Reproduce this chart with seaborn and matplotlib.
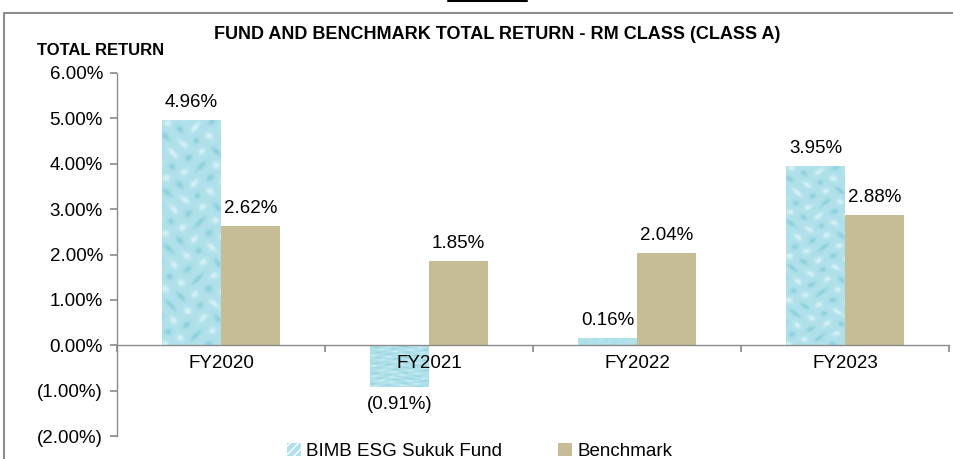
import numpy as np
import pandas as pd
import seaborn as sns
import matplotlib.pyplot as plt
from matplotlib.colors import LinearSegmentedColormap
from matplotlib.patches import Patch
from matplotlib.lines import Line2D
from matplotlib.ticker import FuncFormatter, FixedLocator

years = ["FY2020", "FY2021", "FY2022", "FY2023"]
fund = [4.96, -0.91, 0.16, 3.95]
benchmark = [2.62, 1.85, 2.04, 2.88]
series = ["BIMB ESG Sukuk Fund", "Benchmark"]

df = pd.DataFrame({
    "year": years * 2,
    "value": fund + benchmark,
    "series": [series[0]] * 4 + [series[1]] * 4,
})

sns.set_theme(style="white")
plt.rcParams["font.family"] = ["Liberation Sans", "DejaVu Sans"]
plt.rcParams["text.color"] = "black"
plt.rcParams["xtick.color"] = "black"
plt.rcParams["ytick.color"] = "black"

fund_col = "#B0E1EA"
bench_col = "#C6BD97"
fs = 13.5

fig = plt.figure(figsize=(9.54, 4.59), dpi=100)
ax = fig.add_axes([0.1226, 0.050, 0.8722, 0.791])

sns.barplot(data=df, x="year", y="value", hue="series", palette=[fund_col, bench_col],
            width=0.567, saturation=1, legend=False, linewidth=0, ax=ax)

# water-drop look on the fund bars (just a smooth pattern, not data)
gx, gy = np.meshgrid(np.linspace(0, 6, 120), np.linspace(0, 30, 600))
tex = np.sin(gx * 2.1 + np.sin(gy * 0.9)) * np.sin(gy * 1.7 + np.cos(gx * 1.3))
tex = np.abs(tex) ** 3 * np.sign(tex)
drop_cmap = LinearSegmentedColormap.from_list("drop", ["#8CCFDD", "#B0E1EA", "#D8F2F6"])
for bar in ax.patches[:4]:
    x0, w = bar.get_x(), bar.get_width()
    y0, h = bar.get_y(), bar.get_height()
    im = ax.imshow(tex, cmap=drop_cmap, extent=[x0, x0 + w, y0, y0 + h],
                   aspect="auto", zorder=1.5, interpolation="bilinear")
    im.set_clip_path(bar)

for i, bar in enumerate(ax.patches[:8]):
    v = (fund + benchmark)[i]
    cx = bar.get_x() + bar.get_width() / 2
    if v >= 0:
        ax.text(cx, v + 0.2, f"{v:.2f}%", ha="center", va="bottom", fontsize=fs)
    else:
        ax.text(cx, v - 0.2, f"({abs(v):.2f}%)", ha="center", va="top", fontsize=fs)

ax.set_axisbelow(False)
ax.set_xlim(-0.5, 3.5)
ax.set_ylim(-2, 6)
ax.set_xlabel("")
ax.set_ylabel("")
ax.set_yticks(np.arange(-2, 7, 1))
ax.yaxis.set_major_formatter(FuncFormatter(
    lambda v, p: f"{v:.2f}%" if v >= 0 else f"({abs(v):.2f}%)"))

for s in ["top", "right"]:
    ax.spines[s].set_visible(False)
ax.spines["bottom"].set_position(("data", 0))
for s in ["left", "bottom"]:
    ax.spines[s].set_color("#8C8C8C")
    ax.spines[s].set_linewidth(1)

ax.xaxis.set_major_locator(FixedLocator([-0.5, 0.5, 1.5, 2.5, 3.5]))
ax.xaxis.set_minor_locator(FixedLocator([0, 1, 2, 3]))
ax.set_xticklabels([""] * 5)
ax.set_xticklabels(years, minor=True)
ax.tick_params(axis="x", which="major", direction="out", length=5, color="#8C8C8C", bottom=True)
ax.tick_params(axis="x", which="minor", length=0, pad=7, labelsize=fs, bottom=True)
ax.tick_params(axis="y", direction="out", length=5, color="#8C8C8C", labelsize=fs, left=True, pad=5)

fig.text(0.521, 0.924, "FUND AND BENCHMARK TOTAL RETURN - RM CLASS (CLASS A)",
         ha="center", va="center", fontsize=13, fontweight="bold")
fig.text(0.039, 0.889, "TOTAL RETURN", ha="left", va="center", fontsize=12,
         fontweight="bold")

# outer frame (left and top edges) and short line above
fig.add_artist(Line2D([0.004, 1.0], [0.972, 0.972], color="#8C8C8C", lw=1.5))
fig.add_artist(Line2D([0.004, 0.004], [0.0, 0.972], color="#8C8C8C", lw=1.5))
fig.add_artist(Line2D([0.470, 0.552], [0.997, 0.997], color="black", lw=1.5))

handles = [Patch(facecolor=fund_col, edgecolor="white", hatch="////", lw=0),
           Patch(facecolor=bench_col, edgecolor=bench_col, lw=0)]
fig.legend(handles, series, loc="center", bbox_to_anchor=(0.503, 0.017), ncol=2,
           frameon=False, fontsize=fs, handlelength=0.7, handleheight=0.7,
           handletextpad=0.3, columnspacing=3.0, borderpad=0)

fig.savefig("out.png", dpi=100)
